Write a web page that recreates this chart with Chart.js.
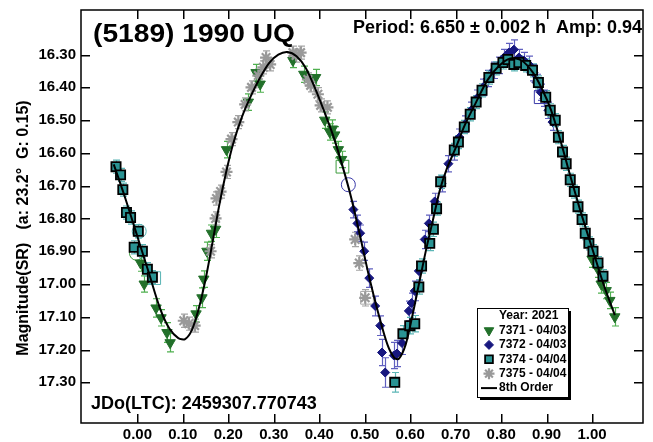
<!DOCTYPE html>
<html>
<head>
<meta charset="utf-8">
<title>(5189) 1990 UQ</title>
<script src="https://cdn.jsdelivr.net/npm/chart.js@4/dist/chart.umd.min.js"></script>
<style>
  html, body { margin: 0; padding: 0; background: #fff; }
  canvas { display: block; }
</style>
</head>
<body>
<canvas id="lightcurve" width="653" height="442"></canvas>
<script>
const xTicks = [0.00, 0.10, 0.20, 0.30, 0.40, 0.50, 0.60, 0.70, 0.80, 0.90, 1.00];
const yTicks = [16.30, 16.40, 16.50, 16.60, 16.70, 16.80, 16.90, 17.00, 17.10, 17.20, 17.30];

const sessionNames = ['7371 - 04/03', '7372 - 04/03', '7374 - 04/04', '7375 - 04/04'];

// [phase, magnitude, error]
const session7371 = [
    [0.007, 16.936, 0.025], [0.015, 17.000, 0.025], [0.041, 17.073, 0.028], [0.052, 17.103, 0.025],
    [0.065, 17.148, 0.030], [0.072, 17.179, 0.028], [0.129, 17.091, 0.025], [0.142, 17.042, 0.030],
    [0.146, 16.985, 0.025], [0.153, 16.900, 0.028], [0.163, 16.845, 0.025], [0.172, 16.833, 0.025],
    [0.196, 16.590, 0.025], [0.244, 16.445, 0.025], [0.261, 16.355, 0.025], [0.270, 16.390, 0.025],
    [0.342, 16.318, 0.022], [0.366, 16.360, 0.025], [0.392, 16.370, 0.025], [0.412, 16.500, 0.025],
    [0.423, 16.536, 0.025], [0.429, 16.527, 0.028], [0.434, 16.545, 0.025], [0.442, 16.590, 0.025],
    [0.449, 16.620, 0.025], [1.000, 16.924, 0.025], [1.013, 16.955, 0.025], [1.020, 17.000, 0.028],
    [1.031, 17.020, 0.025], [1.039, 17.050, 0.025], [1.050, 17.100, 0.028]
];
const session7372 = [
    [0.475, 16.773, 0.025], [0.484, 16.815, 0.025], [0.490, 16.845, 0.025], [0.499, 16.900, 0.028],
    [0.510, 16.982, 0.028], [0.523, 17.067, 0.030], [0.534, 17.127, 0.030], [0.538, 17.209, 0.040],
    [0.545, 17.270, 0.045], [0.564, 17.218, 0.040], [0.571, 17.212, 0.040], [0.582, 17.180, 0.035],
    [0.597, 17.082, 0.030], [0.603, 17.058, 0.030], [0.610, 17.021, 0.030], [0.619, 16.960, 0.028],
    [0.632, 16.864, 0.028], [0.641, 16.815, 0.025], [0.654, 16.748, 0.025], [0.669, 16.694, 0.025],
    [0.684, 16.633, 0.025], [0.697, 16.597, 0.025], [0.708, 16.552, 0.025], [0.721, 16.512, 0.025],
    [0.734, 16.470, 0.025], [0.747, 16.433, 0.025], [0.760, 16.400, 0.025], [0.771, 16.373, 0.025],
    [0.784, 16.348, 0.025], [0.795, 16.333, 0.025], [0.806, 16.309, 0.025], [0.817, 16.294, 0.028],
    [0.828, 16.285, 0.030], [0.839, 16.309, 0.025], [0.850, 16.318, 0.025], [0.861, 16.330, 0.025],
    [0.871, 16.355, 0.025], [0.878, 16.385, 0.025], [0.887, 16.415, 0.025], [0.895, 16.433, 0.025],
    [0.904, 16.470, 0.025], [0.913, 16.506, 0.025]
];
const session7374 = [
    [-0.047, 16.642, 0.020], [-0.037, 16.667, 0.020], [-0.032, 16.712, 0.020], [-0.024, 16.782, 0.020],
    [-0.015, 16.797, 0.020], [0.002, 16.839, 0.020], [-0.007, 16.888, 0.020], [0.011, 16.900, 0.020],
    [0.022, 16.955, 0.020], [0.033, 16.979, 0.020],
    [0.566, 17.300, 0.030], [0.584, 17.152, 0.025], [0.599, 17.127, 0.025], [0.610, 17.121, 0.025],
    [0.619, 17.009, 0.022], [0.625, 16.945, 0.022], [0.643, 16.876, 0.022], [0.651, 16.833, 0.022],
    [0.658, 16.770, 0.020], [0.667, 16.688, 0.020], [0.697, 16.591, 0.020], [0.706, 16.567, 0.020],
    [0.719, 16.521, 0.020], [0.732, 16.482, 0.020], [0.745, 16.445, 0.020], [0.758, 16.409, 0.020],
    [0.773, 16.370, 0.020], [0.789, 16.342, 0.020], [0.804, 16.324, 0.020], [0.815, 16.315, 0.020],
    [0.828, 16.330, 0.020], [0.839, 16.324, 0.020], [0.854, 16.333, 0.020], [0.869, 16.348, 0.020],
    [0.882, 16.385, 0.020], [0.898, 16.430, 0.020], [0.908, 16.470, 0.020], [0.919, 16.500, 0.020],
    [0.926, 16.552, 0.020], [0.935, 16.597, 0.020], [0.943, 16.633, 0.020], [0.952, 16.682, 0.020],
    [0.961, 16.718, 0.020], [0.969, 16.764, 0.020], [0.978, 16.803, 0.020], [0.985, 16.845, 0.020],
    [0.993, 16.876, 0.020], [1.002, 16.900, 0.020], [1.013, 16.936, 0.020], [1.024, 16.976, 0.020]
];
const session7375 = [
    [0.102, 17.112, 0.020], [0.113, 17.121, 0.020], [0.126, 17.127, 0.020], [0.161, 16.900, 0.020],
    [0.172, 16.800, 0.020], [0.174, 16.739, 0.020], [0.183, 16.718, 0.020], [0.196, 16.658, 0.020],
    [0.207, 16.558, 0.020], [0.222, 16.506, 0.020], [0.237, 16.452, 0.020], [0.251, 16.400, 0.020],
    [0.266, 16.364, 0.020], [0.277, 16.339, 0.020], [0.283, 16.309, 0.020], [0.292, 16.330, 0.020],
    [0.342, 16.294, 0.020], [0.349, 16.303, 0.020], [0.359, 16.294, 0.020], [0.375, 16.376, 0.020],
    [0.381, 16.394, 0.020], [0.397, 16.421, 0.020], [0.403, 16.455, 0.020], [0.418, 16.461, 0.020],
    [0.479, 16.864, 0.022], [0.488, 16.936, 0.022], [0.501, 17.042, 0.025]
];

// excluded points, drawn hollow: [phase, magnitude, session index]
const hollowSquares = [[0.451, 16.642, 0], [0.037, 16.982, 2], [0.505, 17.042, 3], [0.887, 16.430, 1]];
const hollowCircles = [[0.464, 16.697, 1], [0.004, 16.839, 2], [-0.002, 16.906, 0]];

// 8th order Fourier fit
const fitPhase = [-0.052, -0.025, 0.000, 0.025, 0.050, 0.070, 0.090, 0.105, 0.120, 0.135, 0.150, 0.165,
    0.180, 0.195, 0.210, 0.230, 0.250, 0.270, 0.290, 0.310, 0.330, 0.350, 0.370, 0.390, 0.410, 0.430,
    0.450, 0.470, 0.490, 0.510, 0.530, 0.550, 0.565, 0.575, 0.590, 0.605, 0.620, 0.635, 0.650, 0.665,
    0.680, 0.700, 0.720, 0.745, 0.770, 0.795, 0.820, 0.845, 0.870, 0.890, 0.910, 0.930, 0.950, 0.975,
    1.000, 1.025, 1.050];
const fitMag = [16.635, 16.745, 16.855, 16.965, 17.075, 17.135, 17.165, 17.168, 17.140, 17.075, 16.985, 16.875,
    16.760, 16.660, 16.575, 16.490, 16.425, 16.370, 16.325, 16.300, 16.292, 16.305, 16.340, 16.400, 16.470, 16.545,
    16.635, 16.735, 16.855, 16.980, 17.090, 17.185, 17.225, 17.228, 17.185, 17.095, 16.995, 16.895, 16.805, 16.715,
    16.650, 16.585, 16.515, 16.445, 16.378, 16.335, 16.312, 16.318, 16.355, 16.405, 16.470, 16.560, 16.660, 16.780,
    16.890, 17.000, 17.095];

const FONT = "'Liberation Sans', Arial, sans-serif";
const markerColors = ['#22702a', '#17177f', '#2a9494', '#999999'];
const barColors = ['#4fb04f', '#6060c0', '#5cb6b6', '#a4a4a4'];
const hollowColors = ['#3c9c3c', '#3a3aa8', '#58b4b4', '#a8a8a8'];

function toPoints(rows) {
    return rows.map(r => ({ x: r[0], y: r[1] }));
}

const sessionStyles = [
    { pointStyle: 'triangle', pointRotation: 180, pointRadius: 6, pointBorderWidth: 1 },
    { pointStyle: 'rectRot', pointRotation: 0, pointRadius: 4.5, pointBorderWidth: 1 },
    { pointStyle: 'rect', pointRotation: 0, pointRadius: 6.5, pointBorderWidth: 1.8 },
    { pointStyle: 'star', pointRotation: 0, pointRadius: 6, pointBorderWidth: 2.2 }
];

const sessions = [session7371, session7372, session7374, session7375];

const datasets = [{
    label: '8th Order',
    data: fitPhase.map((p, i) => ({ x: p, y: fitMag[i] })),
    showLine: true,
    borderColor: '#000',
    borderWidth: 2,
    pointRadius: 0,
    tension: 0.3,
    order: 0
}];

sessions.forEach((rows, i) => {
    datasets.push(Object.assign({
        label: sessionNames[i],
        data: toPoints(rows),
        errs: rows.map(r => r[2]),
        errColor: barColors[i],
        pointBackgroundColor: markerColors[i],
        pointBorderColor: i === 2 ? '#000' : markerColors[i],
        order: 4 - i
    }, sessionStyles[i]));
});

datasets.push({
    label: 'excluded squares',
    data: toPoints(hollowSquares),
    pointStyle: 'rect',
    pointRadius: 9,
    pointBackgroundColor: 'rgba(0,0,0,0)',
    pointBorderColor: ctx => hollowColors[hollowSquares[ctx.dataIndex][2]],
    pointBorderWidth: 1,
    order: 6
});
datasets.push({
    label: 'excluded circles',
    data: toPoints(hollowCircles),
    pointStyle: 'circle',
    pointRadius: 7,
    pointBackgroundColor: 'rgba(0,0,0,0)',
    pointBorderColor: ctx => hollowColors[hollowCircles[ctx.dataIndex][2]],
    pointBorderWidth: 1,
    order: 6
});

const decorations = {
    id: 'decorations',
    beforeDatasetsDraw(chart) {
        const { ctx, chartArea: a, scales: { x, y } } = chart;
        ctx.save();
        ctx.beginPath();
        ctx.rect(a.left, a.top, a.right - a.left, a.bottom - a.top);
        ctx.clip();
        ctx.lineWidth = 1.2;
        chart.data.datasets.forEach(ds => {
            if (!ds.errs) return;
            ctx.strokeStyle = ds.errColor;
            ds.data.forEach((pt, j) => {
                const e = ds.errs[j];
                const px = Math.round(x.getPixelForValue(pt.x)) + 0.5;
                const y1 = y.getPixelForValue(pt.y - e);
                const y2 = y.getPixelForValue(pt.y + e);
                ctx.beginPath();
                ctx.moveTo(px, y1); ctx.lineTo(px, y2);
                ctx.moveTo(px - 3.5, y1); ctx.lineTo(px + 3.5, y1);
                ctx.moveTo(px - 3.5, y2); ctx.lineTo(px + 3.5, y2);
                ctx.stroke();
            });
        });
        ctx.restore();
    },
    afterDraw(chart) {
        const ctx = chart.ctx;
        const a = chart.chartArea;
        const xs = chart.scales.x;
        const ys = chart.scales.y;
        ctx.save();

        // frame and inward ticks
        ctx.fillStyle = '#000';
        xTicks.forEach(v => {
            const px = Math.round(xs.getPixelForValue(v));
            ctx.fillRect(px, a.bottom - 9, 1.5, 9);
            ctx.fillRect(px, a.top, 1.5, 9);
        });
        yTicks.forEach(v => {
            const py = Math.round(ys.getPixelForValue(v));
            ctx.fillRect(a.left, py, 9, 1.5);
            ctx.fillRect(a.right - 9, py, 9, 1.5);
        });
        ctx.strokeStyle = '#000';
        ctx.lineWidth = 1.5;
        ctx.strokeRect(a.left, a.top, a.right - a.left, a.bottom - a.top);

        // texts
        ctx.fillStyle = '#000';
        ctx.textBaseline = 'alphabetic';
        ctx.textAlign = 'left';
        ctx.font = 'bold 26px ' + FONT;
        const title = '(5189) 1990 UQ';
        const tw = ctx.measureText(title).width;
        ctx.save();
        ctx.translate(93, 42);
        ctx.scale(202 / tw, 1);
        ctx.fillText(title, 0, 0);
        ctx.restore();

        ctx.font = 'bold 18px ' + FONT;
        ctx.textAlign = 'right';
        ctx.fillText('Period: 6.650 \u00b1 0.002 h  Amp: 0.94', 642, 33);
        ctx.textAlign = 'left';
        ctx.fillText('JDo(LTC): 2459307.770743', 91, 409);

        ctx.save();
        ctx.translate(24, 228);
        ctx.rotate(-Math.PI / 2);
        ctx.textAlign = 'center';
        ctx.textBaseline = 'middle';
        ctx.font = 'bold 16px ' + FONT;
        ctx.fillText('Magnitude(SR)   (a: 23.2\u00b0  G: 0.15)', 0, 0);
        ctx.restore();

        // legend box
        const bx = 477, by = 308, bw = 91, bh = 89;
        ctx.fillStyle = '#000';
        ctx.fillRect(bx + 3, by + 3, bw, bh);
        ctx.fillStyle = '#fff';
        ctx.fillRect(bx, by, bw, bh);
        ctx.strokeStyle = '#000';
        ctx.lineWidth = 1;
        ctx.strokeRect(bx + 0.5, by + 0.5, bw, bh);

        ctx.font = 'bold 12px ' + FONT;
        ctx.textBaseline = 'middle';
        ctx.fillStyle = '#000';
        ctx.fillText('Year: 2021', 499, 316);
        sessionNames.forEach((name, i) => {
            const ry = 330.5 + i * 14.4;
            const st = sessionStyles[i];
            ctx.fillStyle = markerColors[i];
            ctx.strokeStyle = i === 2 ? '#000' : markerColors[i];
            ctx.lineWidth = st.pointBorderWidth;
            Chart.helpers.drawPoint(ctx, {
                pointStyle: st.pointStyle,
                radius: Math.min(st.pointRadius, 5.5),
                rotation: st.pointRotation,
                borderWidth: st.pointBorderWidth
            }, 489, ry);
            ctx.fillStyle = '#000';
            ctx.fillText(name, 499, ry);
        });
        const ly = 330.5 + 4 * 14.4;
        ctx.strokeStyle = '#000';
        ctx.lineWidth = 2;
        ctx.beginPath();
        ctx.moveTo(481, ly); ctx.lineTo(497, ly);
        ctx.stroke();
        ctx.fillText('8th Order', 499, ly);

        ctx.restore();
    }
};

new Chart(document.getElementById('lightcurve'), {
    type: 'scatter',
    data: { datasets: datasets },
    plugins: [decorations],
    options: {
        responsive: false,
        animation: false,
        devicePixelRatio: 1,
        events: [],
        layout: { padding: { left: 0, right: 5, top: 7, bottom: 0 } },
        plugins: {
            legend: { display: false },
            tooltip: { enabled: false },
            title: { display: false }
        },
        scales: {
            x: {
                type: 'linear',
                min: -0.124,
                max: 1.112,
                afterBuildTicks: s => { s.ticks = xTicks.map(v => ({ value: v })); },
                afterFit: s => { s.height = 19; s.paddingLeft = 0; s.paddingRight = 0; },
                grid: { display: false, drawTicks: false },
                border: { display: false },
                ticks: {
                    padding: 3,
                    color: '#000',
                    autoSkip: false,
                    maxRotation: 0,
                    font: { family: FONT, size: 15, weight: 'bold' },
                    callback: v => v.toFixed(2)
                }
            },
            y: {
                type: 'linear',
                reverse: true,
                min: 16.164,
                max: 17.424,
                afterBuildTicks: s => { s.ticks = yTicks.map(v => ({ value: v })); },
                afterFit: s => { s.width = 81; s.paddingTop = 0; s.paddingBottom = 0; },
                grid: { display: false, drawTicks: false },
                border: { display: false },
                ticks: {
                    padding: 5,
                    color: '#000',
                    autoSkip: false,
                    font: { family: FONT, size: 15, weight: 'bold' },
                    callback: v => v.toFixed(2)
                }
            }
        }
    }
});
</script>
</body>
</html>
